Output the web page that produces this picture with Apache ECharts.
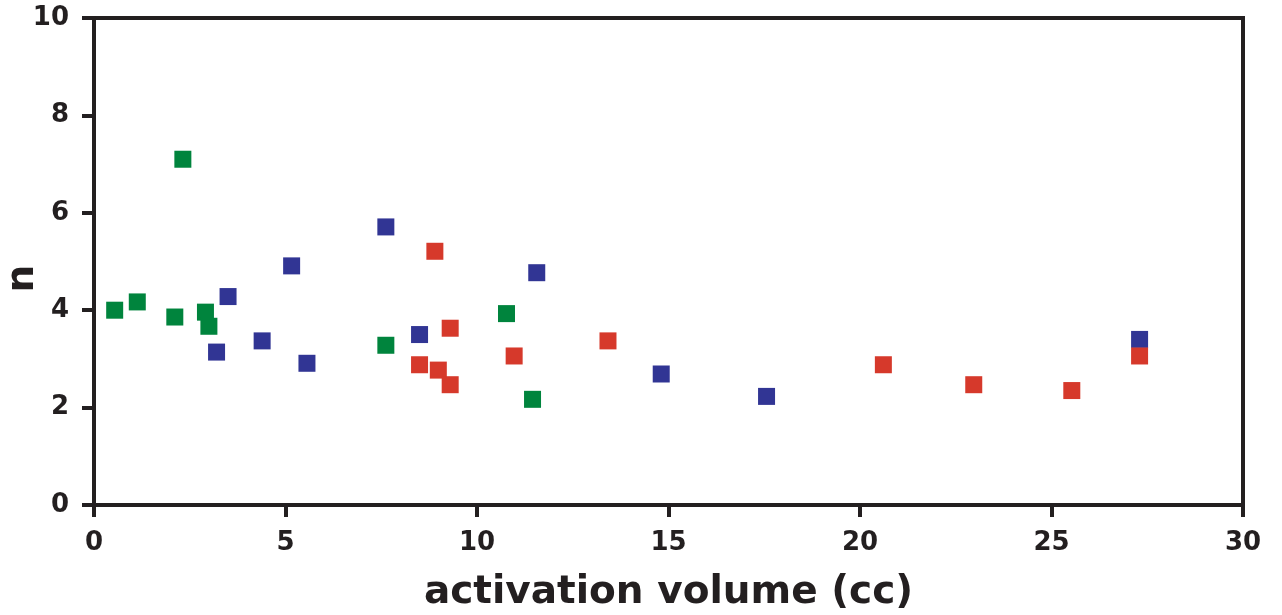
<!DOCTYPE html>
<html>
<head>
<meta charset="utf-8">
<script src="https://cdn.jsdelivr.net/npm/echarts@6/dist/echarts.min.js"></script>
<style>
  html, body { margin: 0; padding: 0; background: #fff; }
  #chart { width: 1282px; height: 615px; }
</style>
</head>
<body>
<div id="chart"></div>
<script>
// [activation volume (cc), n]
const greenPoints = [
  [0.54, 4.00], [1.13, 4.17], [2.32, 7.10], [2.11, 3.86], [2.91, 3.96],
  [3.00, 3.67], [7.62, 3.28], [10.77, 3.93], [11.45, 2.17]
];
const bluePoints = [
  [3.50, 4.28], [3.20, 3.14], [4.39, 3.37], [5.16, 4.91], [5.56, 2.91],
  [7.62, 5.71], [8.50, 3.50], [11.56, 4.77], [14.81, 2.69], [17.56, 2.23],
  [27.30, 3.40]
];
const redPoints = [
  [8.90, 5.21], [9.30, 3.63], [8.50, 2.88], [8.99, 2.77], [9.30, 2.47],
  [10.97, 3.06], [13.42, 3.37], [20.61, 2.88], [22.97, 2.47], [25.53, 2.35],
  [27.30, 3.06]
];
const xTicks = { min: 0, max: 30, interval: 5 };
const yTicks = { min: 0, max: 10, interval: 2 };

const axisColor = "#231f20";
const fontFamily = "'DejaVu Sans', Verdana, sans-serif";

const chart = echarts.init(document.getElementById("chart"));

function scatter(name, data, color) {
  return {
    name: name,
    type: "scatter",
    data: data,
    symbol: "rect",
    symbolSize: 17,
    itemStyle: { color: color, opacity: 1 },
    emphasis: { disabled: true },
  };
}

const option = {
  animation: false,
  grid: {
    left: 94,
    right: 39,
    top: 18,
    bottom: 110,
    outerBoundsMode: "none",
    containLabel: false,
    show: true,
    borderColor: axisColor,
    borderWidth: 4,
    backgroundColor: "transparent",
  },
  xAxis: {
    type: "value",
    min: xTicks.min,
    max: xTicks.max,
    interval: xTicks.interval,
    name: "activation volume (cc)",
    nameLocation: "middle",
    nameGap: 68,
    nameMoveOverlap: false,
    nameTextStyle: { fontFamily: fontFamily, fontWeight: "bold", fontSize: 39, color: axisColor },
    axisLine: { show: true, lineStyle: { color: axisColor, width: 4 } },
    axisTick: { show: true, inside: false, length: 12, lineStyle: { color: axisColor, width: 4 } },
    axisLabel: { margin: 25, fontFamily: fontFamily, fontWeight: "bold", fontSize: 26, color: axisColor },
    splitLine: { show: false },
  },
  yAxis: {
    type: "value",
    min: yTicks.min,
    max: yTicks.max,
    interval: yTicks.interval,
    name: "n",
    nameLocation: "middle",
    nameGap: 52,
    nameMoveOverlap: false,
    nameTextStyle: {
      fontFamily: fontFamily, fontWeight: "bold", fontSize: 39, color: axisColor,
      padding: [0, 34, 0, 0],
    },
    axisLine: { show: true, lineStyle: { color: axisColor, width: 4 } },
    axisTick: { show: true, inside: false, length: 12, lineStyle: { color: axisColor, width: 4 } },
    axisLabel: { margin: 25, fontFamily: fontFamily, fontWeight: "bold", fontSize: 26, color: axisColor },
    splitLine: { show: false },
  },
  series: [
    scatter("green", greenPoints, "#00843d"),
    scatter("blue", bluePoints, "#313594"),
    scatter("red", redPoints, "#d6392b"),
  ],
};

chart.setOption(option);
</script>
</body>
</html>
